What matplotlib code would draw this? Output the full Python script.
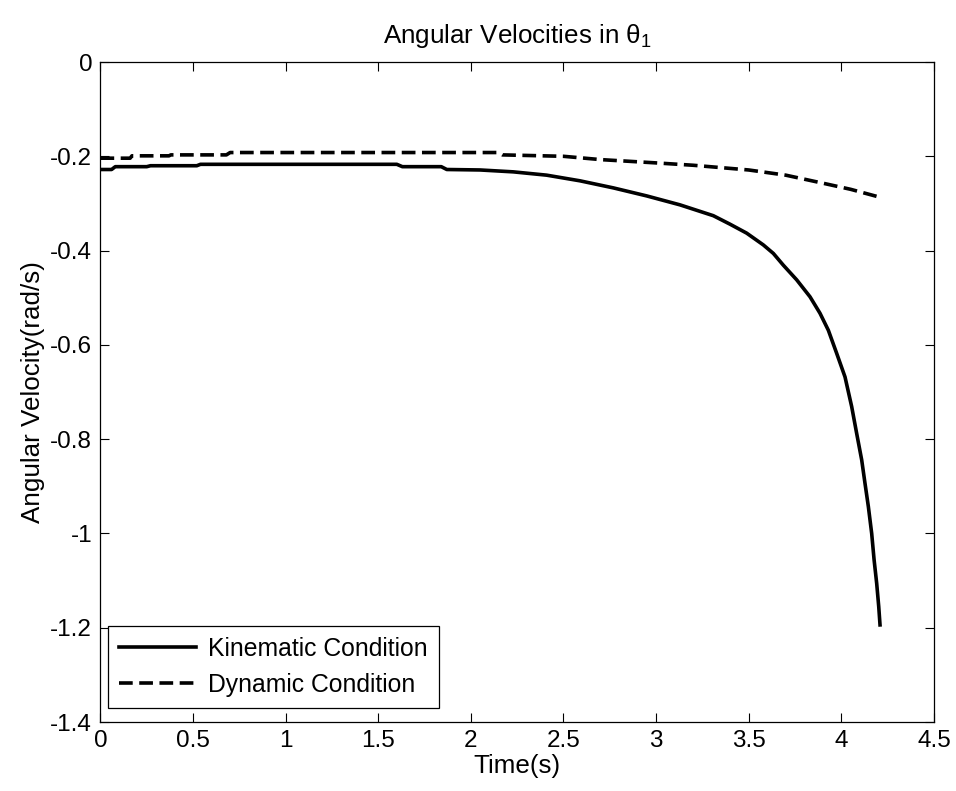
import matplotlib
matplotlib.use('Agg')
import matplotlib.pyplot as plt
import numpy as np

plt.rcParams['font.family'] = ['Liberation Sans', 'DejaVu Sans']
plt.rcParams['axes.unicode_minus'] = False
plt.rcParams['mathtext.fontset'] = 'custom'
plt.rcParams['mathtext.rm'] = 'Liberation Sans'
plt.rcParams['mathtext.it'] = 'Liberation Sans'

# kinematic condition
t_kin = [0, 0.06, 0.08, 0.25, 0.27, 0.52, 0.54, 1.6, 1.63, 1.84, 1.87, 2.05, 2.229,
         2.409, 2.589, 2.769, 2.949, 3.129, 3.309, 3.399, 3.489, 3.579, 3.633,
         3.687, 3.759, 3.831, 3.885, 3.930, 3.975, 4.020, 4.056, 4.083, 4.110,
         4.128, 4.146, 4.164, 4.177, 4.191, 4.202, 4.209]
w_kin = [-0.228, -0.228, -0.222, -0.222, -0.220, -0.220, -0.217, -0.217, -0.222,
         -0.222, -0.228, -0.229, -0.233, -0.240, -0.252, -0.267, -0.284, -0.303,
         -0.326, -0.344, -0.363, -0.388, -0.406, -0.431, -0.462, -0.498, -0.533,
         -0.569, -0.618, -0.668, -0.731, -0.788, -0.844, -0.894, -0.943, -1.000,
         -1.056, -1.106, -1.155, -1.194]

# dynamic condition
t_dyn = [0, 0.16, 0.17, 0.37, 0.38, 0.68, 0.7, 2.15, 2.17, 2.5, 2.7, 3.0, 3.2,
         3.5, 3.7, 3.9, 4.05, 4.21]
w_dyn = [-0.204, -0.204, -0.199, -0.199, -0.197, -0.197, -0.192, -0.192, -0.197,
         -0.200, -0.207, -0.214, -0.219, -0.229, -0.240, -0.257, -0.270, -0.287]

xticks = [0, 0.5, 1, 1.5, 2, 2.5, 3, 3.5, 4, 4.5]
xlabels = ['0', '0.5', '1', '1.5', '2', '2.5', '3', '3.5', '4', '4.5']
yticks = [0, -0.2, -0.4, -0.6, -0.8, -1, -1.2, -1.4]
ylabels = ['0', '-0.2', '-0.4', '-0.6', '-0.8', '-1', '-1.2', '-1.4']

fig = plt.figure(figsize=(9.56, 7.91), dpi=100)
ax = fig.add_axes([0.1051, 0.0872, 0.8718, 0.8344])
fs = 17.5
fl = 18.7

ax.plot(t_kin, w_kin, color='black', lw=2.6, label='Kinematic Condition')
ax.plot(t_dyn, w_dyn, color='black', lw=2.6, linestyle=(0, (3.8, 1.8)),
        label='Dynamic Condition')

ax.set_xlim(0, 4.5)
ax.set_ylim(-1.4, 0)
ax.set_xticks(xticks)
ax.set_xticklabels(xlabels, fontsize=fs)
ax.set_yticks(yticks)
ax.set_yticklabels(ylabels, fontsize=fs)
ax.tick_params(direction='in', length=6.5, width=0.8, top=True, right=True, pad=6)
for s in ax.spines.values():
    s.set_linewidth(0.9)

ax.set_xlabel('Time(s)', fontsize=fl, labelpad=1)
ax.set_ylabel('Angular Velocity(rad/s)', fontsize=fl, labelpad=4)
ax.set_title(r'Angular Velocities in $\theta_1$', fontsize=fl, pad=14)

leg = ax.legend(loc='lower left', bbox_to_anchor=(0.009, 0.021), borderaxespad=0,
                fontsize=17.8, fancybox=False, edgecolor='black', framealpha=1,
                handlelength=3.1, handletextpad=0.5, labelspacing=0.5,
                borderpad=0.45)
leg.get_frame().set_linewidth(0.9)

fig.savefig('out.png', dpi=100)
